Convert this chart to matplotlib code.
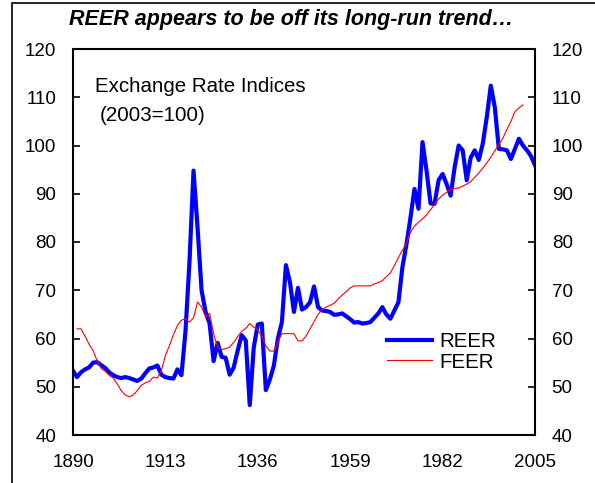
import numpy as np
import matplotlib
matplotlib.use("Agg")
import matplotlib.pyplot as plt
from matplotlib.patches import Rectangle

plt.rcParams['font.family'] = ['Liberation Sans', 'DejaVu Sans']

reer_years = list(range(1890, 2006))
reer = [53.3, 52.0, 53.0, 53.6, 54.0, 55.0, 55.1, 54.5, 53.9, 53.0,
        52.4, 52.0, 51.8, 52.0, 51.8, 51.5, 51.2, 51.7, 52.8, 53.8,
        54.0, 54.4, 52.5, 52.0, 51.8, 51.7, 53.6, 52.4, 61.5, 76.0,
        94.8, 83.0, 70.0, 65.5, 63.1, 55.3, 59.1, 56.2, 56.0, 52.5,
        54.0, 57.5, 60.7, 59.6, 46.2, 58.2, 62.9, 63.1, 49.3, 51.5,
        54.4, 60.0, 63.4, 75.2, 71.7, 65.5, 70.5, 66.0, 66.5, 67.5,
        70.8, 66.5, 65.8, 65.7, 65.5, 64.9, 65.0, 65.2, 64.6, 64.0,
        63.3, 63.4, 63.1, 63.2, 63.4, 64.3, 65.2, 66.5, 65.0, 64.1,
        65.8, 67.5, 74.8, 79.5, 85.0, 91.0, 86.9, 100.7, 94.8, 88.0,
        87.9, 92.8, 94.1, 92.0, 89.6, 95.5, 100.0, 99.0, 92.8, 97.5,
        99.0, 97.0, 100.4, 105.9, 112.4, 107.9, 99.3, 99.2, 99.0, 97.2,
        99.3, 101.4, 100.0, 99.0, 97.8, 95.9]

feer_years = list(range(1891, 2003))
feer = [62.0, 62.0, 60.5, 58.8, 57.5, 55.4, 53.8, 53.2, 52.4,
        51.8, 50.6, 49.2, 48.3, 47.9, 48.3, 49.2, 50.3, 50.8, 51.1,
        52.0, 51.8, 53.4, 56.5, 58.5, 60.8, 62.7, 63.8, 64.1, 63.4,
        64.3, 67.6, 66.5, 64.5, 65.2, 61.0, 58.2, 57.7, 57.9, 58.2,
        59.2, 60.4, 61.5, 62.1, 63.1, 62.3, 61.8, 60.4, 58.5, 57.4,
        57.4, 59.3, 61.0, 61.0, 61.0, 61.0, 59.5, 59.5, 60.5, 62.0,
        63.5, 65.0, 66.0, 66.5, 66.9, 67.3, 68.2, 69.0, 69.7, 70.5,
        70.9, 70.9, 70.9, 70.9, 70.9, 71.3, 71.6, 72.0, 72.8, 73.6,
        75.1, 76.8, 78.3, 79.7, 82.0, 83.3, 84.1, 84.8, 85.6, 86.7,
        87.8, 88.9, 89.7, 90.3, 91.0, 91.1, 91.2, 91.6, 92.0, 92.5,
        93.4, 94.3, 95.3, 96.4, 97.6, 98.9, 100.2, 101.5, 103.3, 105.0,
        107.0, 107.8, 108.4]

x_ticks = [1890, 1913, 1936, 1959, 1982, 2005]
y_ticks = [40, 50, 60, 70, 80, 90, 100, 110, 120]

fig = plt.figure(figsize=(5.95, 4.83), dpi=100)
# outer frame of the chart
fig.patches.append(Rectangle((12 / 595, -0.01), 1.0, 1 - 3 / 483 + 0.01,
                             transform=fig.transFigure, fill=False,
                             edgecolor='black', linewidth=1.2))

ax = fig.add_axes([73 / 595, 1 - 435 / 483, 462 / 595, 386 / 483])
ax.plot(reer_years, reer, color='#0000FF', linewidth=3.0, label='REER')
ax.plot(feer_years, feer, color='#FF0000', linewidth=0.8, label='FEER')

ax.set_xlim(1890, 2005)
ax.set_ylim(40, 120)
ax.set_xticks(x_ticks)
ax.set_yticks(y_ticks)
ax.tick_params(axis='x', length=0, pad=14, labelsize=13.5)
ax.tick_params(axis='y', direction='in', length=5, width=1.2, pad=12,
               labelsize=13.5, right=True, labelright=True)
for s in ax.spines.values():
    s.set_linewidth(1.5)

ax.text(0.048, 0.902, 'Exchange Rate Indices', transform=ax.transAxes,
        fontsize=14.8, va='center', ha='left')
ax.text(0.058, 0.829, '(2003=100)', transform=ax.transAxes,
        fontsize=14.8, va='center', ha='left')

ax.legend(loc='center left', bbox_to_anchor=(0.648, 0.215), frameon=False,
          fontsize=14.8, handlelength=2.2, labelspacing=0.05,
          handletextpad=0.35, borderpad=0.2)

fig.text(0.49, 1 - 19 / 483, 'REER appears to be off its long-run trend\u2026',
         ha='center', va='center', fontsize=15.5, fontweight='bold',
         fontstyle='italic')

fig.savefig('out.png', dpi=100)
